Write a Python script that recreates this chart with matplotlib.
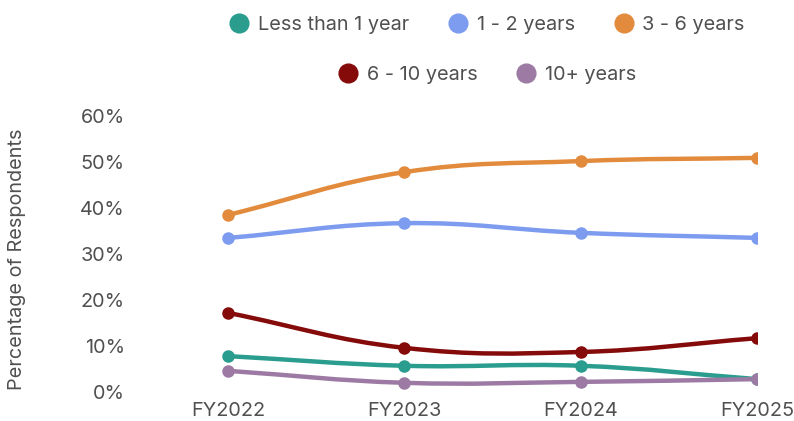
import matplotlib
matplotlib.use('Agg')
import matplotlib.pyplot as plt
from matplotlib.path import Path
from matplotlib.patches import PathPatch
from matplotlib.lines import Line2D
import numpy as np

plt.rcParams['font.family'] = ['Inter', 'DejaVu Sans']

years = ['FY2022', 'FY2023', 'FY2024', 'FY2025']
less_1 = [7.8, 5.7, 5.7, 2.8]
y1_2 = [33.5, 36.7, 34.6, 33.5]
y3_6 = [38.5, 47.8, 50.2, 50.9]
y6_10 = [17.2, 9.6, 8.7, 11.7]
y10_plus = [4.6, 2.0, 2.2, 2.8]

names = ['Less than 1 year', '1 - 2 years', '3 - 6 years', '6 - 10 years', '10+ years']
colors = ['#2a9d8f', '#7d9cef', '#e38b3d', '#850a0a', '#9d7aa4']
series = [less_1, y1_2, y3_6, y6_10, y10_plus]
txt_col = '#505050'
fs = 14.3

fig = plt.figure(figsize=(7.94, 4.21), dpi=100)
ax = fig.add_axes([140/794, 29/421, 617/794, 276/421])
ax.set_xlim(-0.5, 3)
ax.set_ylim(0, 60)


def smooth_path(xs, ys, tension=0.4):
    # spline through the points, control points worked out in pixel space
    pts = ax.transData.transform(np.column_stack([xs, ys]))
    n = len(pts)
    cin, cout = [None] * n, [None] * n
    for i in range(n):
        prev = pts[max(i - 1, 0)]
        nxt = pts[min(i + 1, n - 1)]
        cur = pts[i]
        d01 = np.hypot(*(cur - prev))
        d12 = np.hypot(*(nxt - cur))
        s = d01 + d12 if d01 + d12 > 0 else 1
        fa = tension * d01 / s
        fb = tension * d12 / s
        cin[i] = cur - fa * (nxt - prev)
        cout[i] = cur + fb * (nxt - prev)
    verts = [pts[0]]
    codes = [Path.MOVETO]
    for i in range(n - 1):
        verts += [cout[i], cin[i + 1], pts[i + 1]]
        codes += [Path.CURVE4] * 3
    verts = ax.transData.inverted().transform(np.array(verts))
    return Path(verts, codes)


x = np.arange(len(years))
for vals, c, name in zip(series, colors, names):
    ax.add_patch(PathPatch(smooth_path(x, vals), facecolor='none', edgecolor=c,
                           lw=3.2, capstyle='round', joinstyle='round'))
    ax.plot(x, vals, linestyle='none', marker='o', ms=8, color=c)

ax.set_xticks(x)
ax.set_xticklabels(years)
ax.set_yticks(range(0, 61, 10))
ax.set_yticklabels(['%d%%' % v for v in range(0, 61, 10)])
ax.tick_params(length=0, labelsize=fs, colors=txt_col)
ax.tick_params(axis='y', pad=11)
ax.tick_params(axis='x', pad=7)
for sp in ax.spines.values():
    sp.set_visible(False)
ax.set_ylabel('Percentage of Respondents', fontsize=fs, color=txt_col)
ax.yaxis.set_label_coords(-(140 - 26) / 617, 0.48)

handles = [Line2D([], [], linestyle='none', marker='o', ms=13.5, color=c) for c in colors]
leg_kw = dict(loc='center', frameon=False, fontsize=fs, handletextpad=0.45,
              columnspacing=1.95, handlelength=1.0, borderpad=0, borderaxespad=0)
leg1 = fig.legend(handles[:3], names[:3], bbox_to_anchor=(487/794, 1 - 25/421), ncol=3, **leg_kw)
leg2 = fig.legend(handles[3:], names[3:], bbox_to_anchor=(487/794, 1 - 75/421), ncol=2, **leg_kw)
for lg in (leg1, leg2):
    for t in lg.get_texts():
        t.set_color(txt_col)

fig.savefig('out.png', dpi=100)
